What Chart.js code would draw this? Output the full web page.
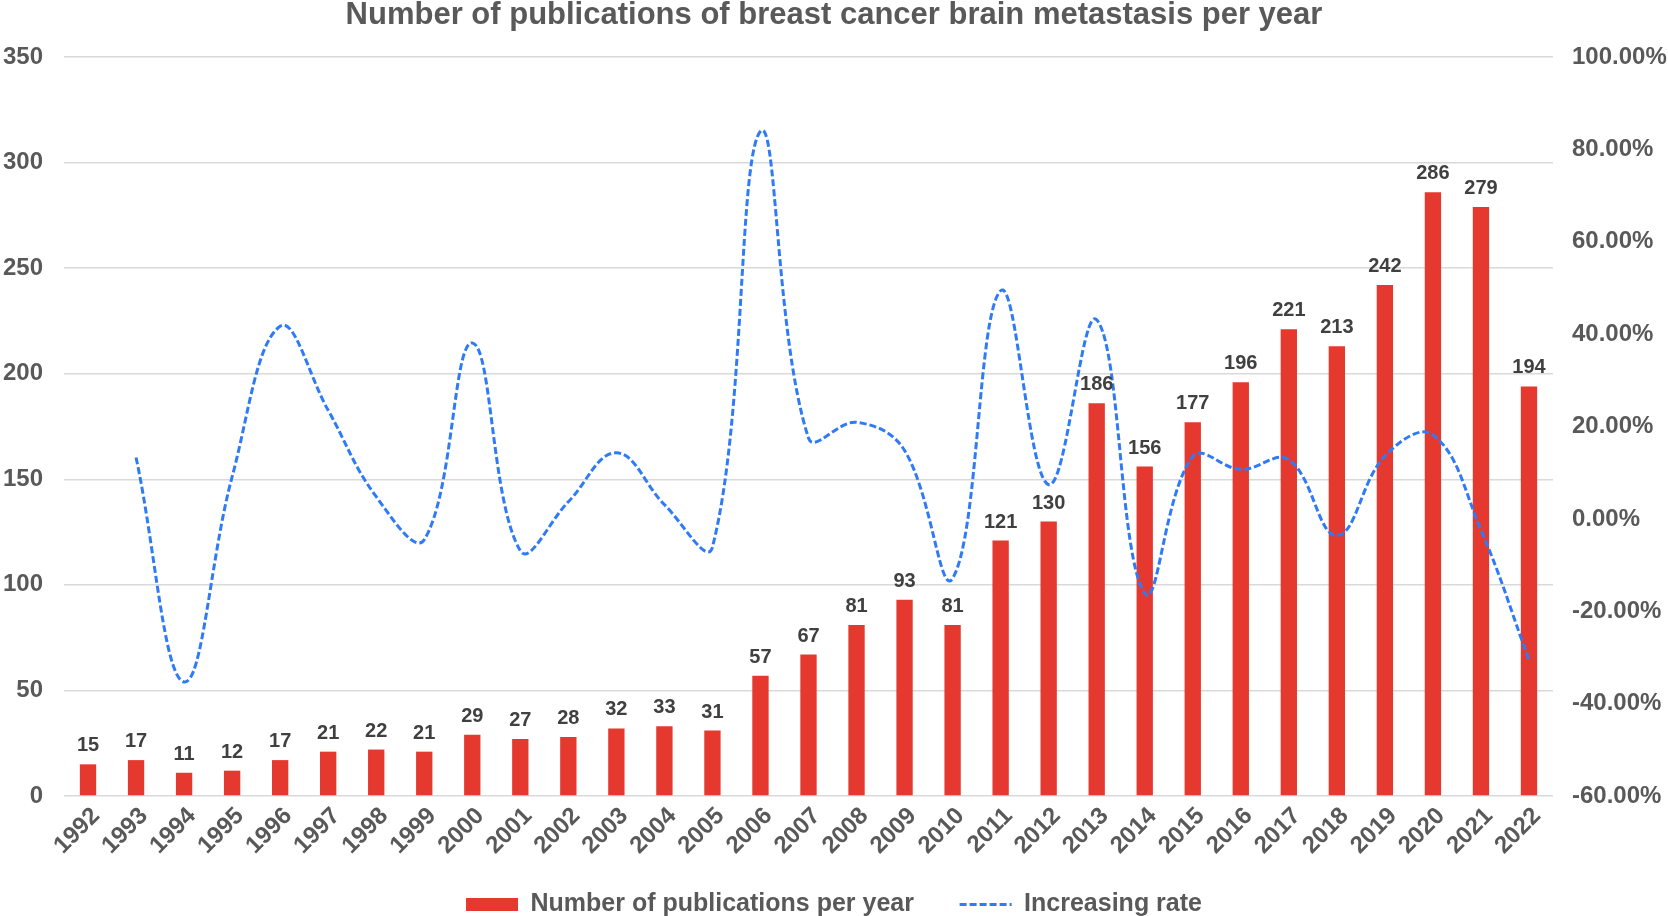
<!DOCTYPE html>
<html>
<head>
<meta charset="utf-8">
<script src="https://cdn.jsdelivr.net/npm/chart.js@4"></script>
<style>
  html, body { margin: 0; padding: 0; background: #fff; }
  #wrap { width: 1668px; height: 916px; }
</style>
</head>
<body>
<div id="wrap"><canvas id="pubChart" width="1668" height="916"></canvas></div>
<script>
const years = ['1992','1993','1994','1995','1996','1997','1998','1999','2000','2001','2002',
  '2003','2004','2005','2006','2007','2008','2009','2010','2011','2012','2013','2014','2015',
  '2016','2017','2018','2019','2020','2021','2022'];
const publications = [15, 17, 11, 12, 17, 21, 22, 21, 29, 27, 28, 32, 33, 31, 57, 67, 81, 93, 81,
  121, 130, 186, 156, 177, 196, 221, 213, 242, 286, 279, 194];
const increasingRate = [null, 0.133, -0.353, 0.091, 0.417, 0.235, 0.048, -0.045, 0.381, -0.069,
  0.037, 0.143, 0.031, -0.061, 0.839, 0.175, 0.209, 0.148, -0.129, 0.494, 0.074, 0.431, -0.161,
  0.135, 0.107, 0.128, -0.036, 0.136, 0.182, -0.024, -0.305];

const barColor = '#E5392F';
const lineColor = '#2F7BF5';
const textGray = '#595959';
const baseFont = 'Arial, "Liberation Sans", sans-serif';

Chart.defaults.font.family = baseFont;
Chart.defaults.font.weight = 'bold';
Chart.defaults.color = textGray;

// legend text in the original is a narrow face; use it when installed
const probe = document.createElement('canvas').getContext('2d');
probe.font = 'bold 40px "Liberation Sans Narrow", monospace';
const narrowW = probe.measureText('Increasing rate').width;
probe.font = 'bold 40px monospace';
const hasNarrow = Math.abs(narrowW - probe.measureText('Increasing rate').width) > 1;
const legendFont = hasNarrow
    ? { size: 29, weight: 'bold', family: '"Liberation Sans Narrow", Arial, sans-serif' }
    : { size: 25, weight: 'bold', family: baseFont };
const legendGap = hasNarrow ? '       ' : '      ';

// value labels above bars
const barLabels = {
    id: 'barLabels',
    afterDatasetsDraw(chart) {
        const meta = chart.getDatasetMeta(0);
        const ctx = chart.ctx;
        ctx.save();
        ctx.font = 'bold 20px ' + baseFont;
        ctx.fillStyle = '#404040';
        ctx.textAlign = 'center';
        ctx.textBaseline = 'alphabetic';
        meta.data.forEach((bar, i) => {
            ctx.fillText(publications[i], bar.x, bar.y - 13);
        });
        ctx.restore();
    }
};

new Chart(document.getElementById('pubChart'), {
    data: {
        labels: years,
        datasets: [{
            type: 'bar',
            label: 'Number of publications per year',
            data: publications,
            backgroundColor: barColor,
            barPercentage: 0.34,
            categoryPercentage: 1,
            yAxisID: 'y',
            order: 1
        }, {
            type: 'line',
            label: 'Increasing rate',
            data: increasingRate,
            borderColor: lineColor,
            borderWidth: 3,
            borderDash: [7, 3],
            pointRadius: 0,
            tension: 0.4,
            yAxisID: 'y1',
            order: 0
        }]
    },
    options: {
        responsive: false,
        animation: false,
        layout: { padding: { left: 0, right: 0, top: 0, bottom: -11 } },
        plugins: {
            tooltip: { enabled: false },
            title: {
                display: true,
                text: 'Number of publications of breast cancer brain metastasis per year',
                color: textGray,
                font: { size: 31, weight: 'bold', lineHeight: 1 },
                padding: { top: 0, bottom: 26 }
            },
            legend: {
                position: 'bottom',
                labels: {
                    usePointStyle: true,
                    pointStyleWidth: 52,
                    boxHeight: 13,
                    padding: 4,
                    color: textGray,
                    font: legendFont,
                    generateLabels: () => [{
                        text: 'Number of publications per year' + legendGap,
                        fillStyle: barColor, strokeStyle: barColor, lineWidth: 0,
                        pointStyle: 'rect', datasetIndex: 0, fontColor: textGray
                    }, {
                        text: 'Increasing rate',
                        fillStyle: lineColor, strokeStyle: lineColor, lineWidth: 3,
                        lineDash: [7, 3], pointStyle: 'line', datasetIndex: 1, fontColor: textGray
                    }]
                }
            }
        },
        scales: {
            x: {
                grid: { display: false, drawTicks: false },
                border: { display: false },
                ticks: {
                    maxRotation: 45, minRotation: 45, padding: 6, labelOffset: 8,
                    color: textGray, font: { size: 24, weight: 'bold' }
                },
                afterFit: s => { s.height = 92; }
            },
            y: {
                position: 'left',
                min: 0, max: 350,
                ticks: { stepSize: 50, padding: 21, color: textGray, font: { size: 24, weight: 'bold' } },
                grid: { color: '#D9D9D9', lineWidth: 1.5, drawTicks: false },
                border: { display: false },
                afterFit: s => { s.width = 64; }
            },
            y1: {
                position: 'right',
                min: -0.6, max: 1.0,
                ticks: {
                    stepSize: 0.2, padding: 19, color: textGray, font: { size: 24, weight: 'bold' },
                    callback: v => (v * 100).toFixed(2) + '%'
                },
                grid: { drawOnChartArea: false, drawTicks: false },
                border: { display: false },
                afterFit: s => { s.width = 115; }
            }
        }
    },
    plugins: [barLabels]
});
</script>
</body>
</html>
